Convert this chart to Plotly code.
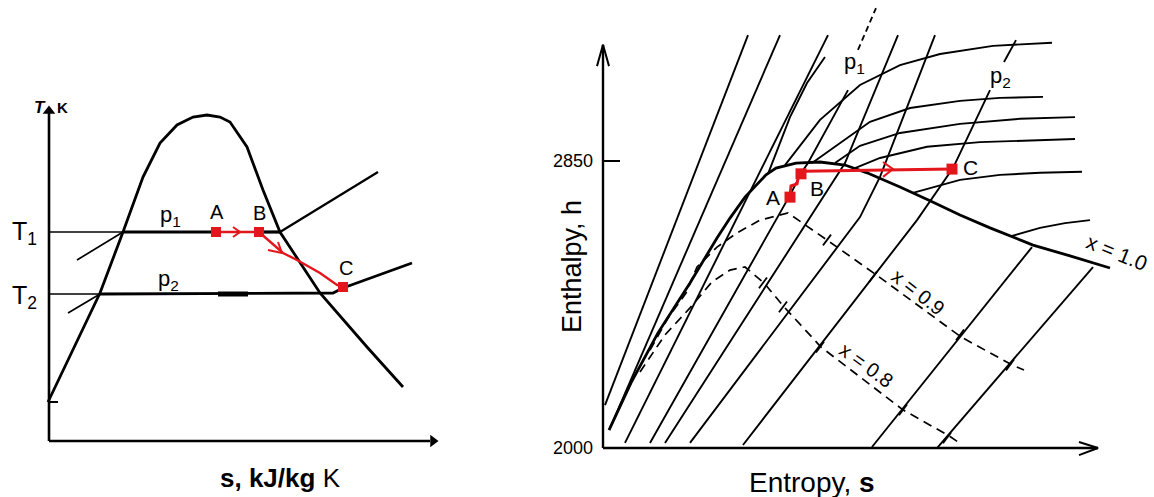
import plotly.graph_objects as go

# ---------------- left panel: T-s diagram (s and T in drawing units)
dome_s = [48, 100, 123, 143, 160, 177, 193, 207, 220, 230, 247, 263, 280, 320, 367, 403]
dome_T = [95, 204, 265, 320, 354, 372, 380, 382, 380, 375, 350, 307, 265, 204, 150, 110]

T1, T2 = 265, 203
p1_liq_s, p1_liq_T = [77, 123], [237, 265]
p1_wet_s = [123, 216]
p1_dry_s = [259, 280]
p1_sup_s, p1_sup_T = [280, 378], [265, 325]
p2_liq_s, p2_liq_T = [68, 100], [184, 203]
p2_s, p2_T = [100, 333, 343, 412], [203, 204, 209, 234]
p2_mark_s = [218, 248]

ts_path_s = [216, 259, 283, 297, 320, 337, 343]
ts_path_T = [265, 265, 244, 237, 224, 212, 210]
ts_state_s = [216, 259, 343]
ts_state_T = [265, 265, 210]

# ---------------- right panel: h-s (Mollier) diagram, h in kJ/kg
sat_s = [609, 631, 658, 690, 717, 730, 745, 766, 776, 796, 820, 845, 867, 900, 930, 960, 990, 1010, 1033, 1070, 1110]
sat_h = [2053, 2193, 2341, 2489, 2622, 2681, 2743, 2809, 2829, 2844, 2847, 2838, 2815, 2773, 2732, 2690, 2652, 2628, 2601, 2569, 2533]

isobars = {
    "L1": ([605, 748], [2127, 3223]),
    "L2": ([610, 780], [2059, 3223]),
    "L3": ([625, 828], [2015, 3223]),
    "p1": ([650, 790, 802, 808, 848], [2015, 2749, 2818, 2844, 3060]),
    "L4": ([665, 845, 898], [2015, 2844, 3223]),
    "L5": ([690, 860, 880, 935], [2015, 2684, 2803, 3223]),
    "p2": ([743, 860, 917, 953, 990], [2009, 2459, 2675, 2829, 3060]),
    "L6": ([872, 1032], [2003, 2595]),
    "L7": ([937, 1093], [2000, 2536]),
}
p1_top_s, p1_top_h = [858, 876], [3179, 3303]
p2_top_s, p2_top_h = [1004, 1016], [3143, 3208]

isotherms = [
    ([768, 777, 790, 807, 825], [2812, 2883, 2980, 3081, 3158]),
    ([785, 820, 860, 900, 940, 993, 1052], [2838, 2972, 3075, 3134, 3167, 3191, 3200]),
    ([812, 840, 870, 910, 960, 1000, 1043], [2844, 2903, 2966, 3007, 3028, 3037, 3040]),
    ([835, 860, 900, 960, 1020, 1075], [2844, 2895, 2933, 2960, 2975, 2980]),
    ([855, 880, 927, 980, 1075], [2829, 2859, 2892, 2906, 2915]),
    ([912, 940, 960, 1000, 1040, 1082], [2755, 2779, 2794, 2809, 2815, 2818]),
    ([1012, 1040, 1065, 1090], [2628, 2652, 2666, 2675]),
]

x09_s = [650, 668, 686, 697, 717, 737, 760, 788, 827, 879, 961, 1012, 1024]
x09_h = [2290, 2385, 2459, 2536, 2595, 2637, 2675, 2696, 2616, 2507, 2329, 2246, 2231]
x08_s = [640, 665, 690, 712, 730, 745, 764, 784, 821, 903, 949, 958]
x08_h = [2225, 2335, 2415, 2492, 2527, 2536, 2489, 2418, 2299, 2113, 2036, 2018]
# small cross ticks where the quality lines meet the isobars
qtick_s = [827, 873, 960, 1010, 763, 783, 820, 903, 947]
qtick_h = [2616, 2507, 2335, 2246, 2489, 2418, 2299, 2113, 2030]

hs_path_s = [790, 791, 797, 799, 803, 952]
hs_path_h = [2746, 2776, 2782, 2812, 2820, 2826]
hs_state_s = [790, 801, 952]
hs_state_h = [2743, 2812, 2826]

h_ticks = [2000, 2850]

RED = "#e3161c"
FONT = "Liberation Sans, Arial, sans-serif"

fig = go.Figure()


def line(s, v, ax, w=1.8, color="black", dash="solid"):
    xa, ya = ("x", "y") if ax == 1 else ("x2", "y2")
    fig.add_trace(go.Scatter(x=s, y=v, xaxis=xa, yaxis=ya, mode="lines",
                             line=dict(color=color, width=w, dash=dash),
                             hoverinfo="skip", showlegend=False))


# ---- left panel
line([49, 49], [56, 384], 1, 2.6)
line([49, 430], [56, 56], 1, 2.6)
fig.add_trace(go.Scatter(x=[49, 433], y=[386, 56], mode="markers", hoverinfo="skip", showlegend=False,
                         marker=dict(symbol=["triangle-up", "triangle-right"], size=11, color="black")))
line([49, 58], [95, 95], 1, 2)
line(dome_s, dome_T, 1, 2.8)
line([49, 123], [T1, T1], 1, 1.3)
line(p1_wet_s, [T1, T1], 1, 3.2)
line(p1_dry_s, [T1, T1], 1, 3.2)
line(p1_sup_s, p1_sup_T, 1, 2.3)
line(p1_liq_s, p1_liq_T, 1, 1.7)
line([49, 100], [T2, T2], 1, 1.3)
line(p2_s, p2_T, 1, 2.8)
line(p2_mark_s, [T2, T2], 1, 5)
line(p2_liq_s, p2_liq_T, 1, 1.7)
line(ts_path_s, ts_path_T, 1, 2.4, RED)
line([233, 240, 233], [270, 265, 260], 1, 2, RED)
line([268, 282, 278], [247, 244, 255], 1, 2, RED)
fig.add_trace(go.Scatter(x=ts_state_s, y=ts_state_T, mode="markers", hoverinfo="skip", showlegend=False,
                         marker=dict(symbol="square", size=10, color=RED)))

# ---- right panel
line([603, 603], [2000, 3194], 2, 2.4)
line([603, 1098], [2000, 2000], 2, 2.4)
line([597, 603, 609], [3131, 3194, 3131], 2, 2)
line([1079, 1098, 1079], [2018, 2000, 1979], 2, 2)
line([603, 620], [2850, 2850], 2, 2)
for s, h in isobars.values():
    line(s, h, 2, 1.9)
line(p1_top_s, p1_top_h, 2, 1.8, dash="6px,4px")
line(p2_top_s, p2_top_h, 2, 1.9)
for s, h in isotherms:
    line(s, h, 2, 1.9)
line(sat_s, sat_h, 2, 2.8)
line(x09_s, x09_h, 2, 1.7, dash="9px,6px")
line(x08_s, x08_h, 2, 1.7, dash="9px,6px")
tx, ty = [], []
for s, h in zip(qtick_s, qtick_h):
    tx += [s - 4, s + 4, None]
    ty += [h - 16, h + 16, None]
line(tx, ty, 2, 1.8)
line(hs_path_s, hs_path_h, 2, 3, RED)
line([883, 893, 883], [2847, 2826, 2803], 2, 2, RED)
fig.add_trace(go.Scatter(x=hs_state_s, y=hs_state_h, xaxis="x2", yaxis="y2", mode="markers",
                         hoverinfo="skip", showlegend=False,
                         marker=dict(symbol="square", size=11, color=RED)))

ann = []


def label(x, y, text, ax, size=20, angle=0, **kw):
    ann.append(dict(x=x, y=y, text=text, xref="x" if ax == 1 else "x2", yref="y" if ax == 1 else "y2",
                    showarrow=False, textangle=angle, font=dict(family=FONT, size=size, color="black"), **kw))


label(24, 264, "T<sub>1</sub>", 1, 25)
label(24, 200, "T<sub>2</sub>", 1, 25)
label(170, 281, "p<sub>1</sub>", 1, 22)
label(168, 217, "p<sub>2</sub>", 1, 22)
label(217, 285, "A", 1, 20)
label(259, 284, "B", 1, 20)
label(346, 229, "C", 1, 20)
label(40, 390, "<b><i>T</i></b>", 1, 17)
label(62, 390, "<b>K</b>", 1, 15)
label(280, 19, "<b>s, kJ/kg</b> K", 1, 26)

label(854, 3140, "p<sub>1</sub>", 2, 22)
label(1000, 3099, "p<sub>2</sub>", 2, 22)
label(773, 2743, "A", 2, 21)
label(817, 2770, "B", 2, 21)
label(970, 2832, "C", 2, 21)
label(1117, 2578, "x = 1.0", 2, 21, 22)
label(918, 2462, "x = 0.9", 2, 20, 38)
label(866, 2245, "x = 0.8", 2, 20, 36)
label(572, 2536, "Enthalpy, h", 2, 27, -90)
label(812, 1898, "Entropy, <b>s</b>", 2, 28)

fig.update_layout(
    width=1154, height=497, margin=dict(l=0, r=0, t=0, b=0),
    paper_bgcolor="white", plot_bgcolor="rgba(0,0,0,0)",
    annotations=ann,
    xaxis=dict(domain=[0, 0.46], range=[0, 530.84], visible=False),
    yaxis=dict(domain=[0, 1], range=[0, 497], visible=False),
    xaxis2=dict(domain=[0.46, 1], range=[530.84, 1154], visible=False),
    yaxis2=dict(domain=[0, 1], range=[1854.9, 3326.8], anchor="free", position=603 / 1154,
                tickvals=h_ticks, ticktext=[str(v) for v in h_ticks], ticks="", showline=False,
                showgrid=False, zeroline=False, ticklabelstandoff=10,
                tickfont=dict(family=FONT, size=18, color="black")),
)

fig.write_html("out.html", config={"displayModeBar": False},
               post_script="document.body.style.margin='0';")
